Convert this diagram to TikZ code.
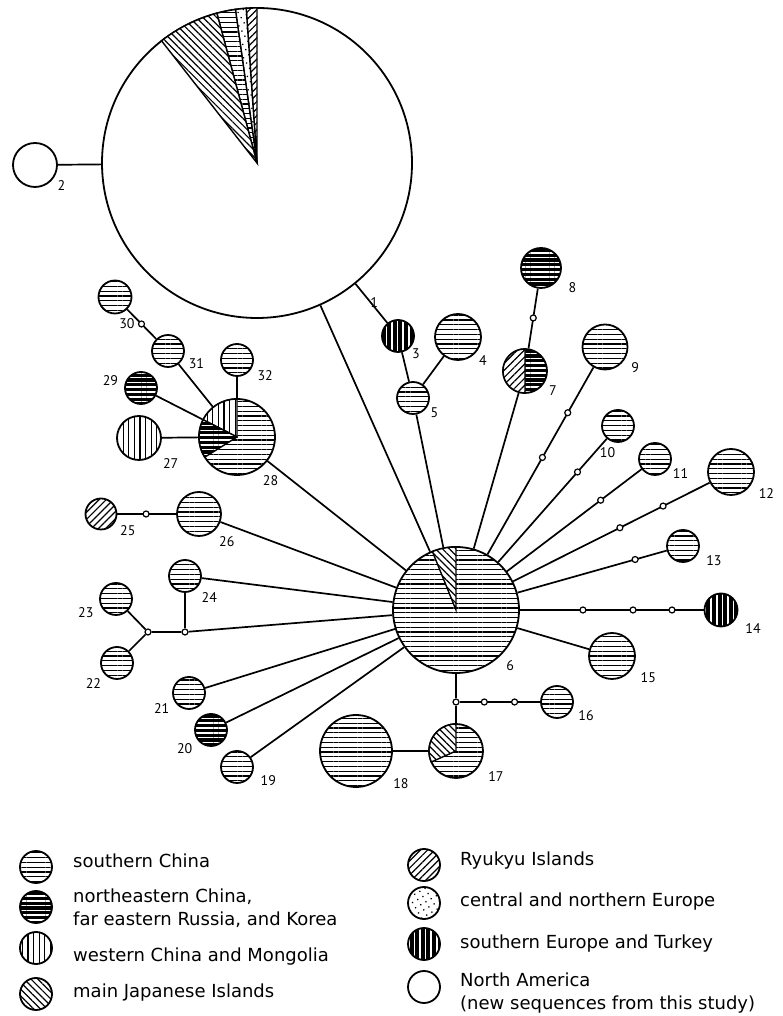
\documentclass[tikz,border=0pt]{standalone}
\usepackage{fontspec}
\setmainfont{DejaVu Sans}
\newfontfamily\numfont{PT Sans}
\usetikzlibrary{calc, patterns.meta}

\tikzset{
	hap/.style={circle, draw, line width=1.8pt, inner sep=0pt, minimum size=#1},
	link/.style={line width=1.7pt},
	mv/.style={circle, draw, fill=white, line width=1.2pt, inner sep=0pt, minimum size=6pt},
	num/.style={font=\numfont\fontsize{14}{15}\selectfont, inner sep=0pt},
	legtext/.style={font=\fontsize{18}{23}\selectfont, anchor=base west, inner sep=0pt, align=left},
	% fills of the regions
	sChina/.style={preaction={fill=white}, pattern={Lines[angle=0, distance=4.8pt, line width=1.2pt]}},
	neChina/.style={preaction={fill=black}, pattern={Lines[angle=0, distance=4.8pt, line width=1.7pt]}, pattern color=white},
	wChina/.style={preaction={fill=white}, pattern={Lines[angle=90, distance=5.6pt, line width=1.3pt]}},
	japan/.style={preaction={fill=white}, pattern={Lines[angle=-45, distance=4.8pt, line width=1.2pt]}},
	ryukyu/.style={preaction={fill=white}, pattern={Lines[angle=45, distance=5pt, line width=1.2pt]}},
	cEurope/.style={preaction={fill=white}, pattern={Dots[angle=30, distance=6pt, radius=0.9pt]}},
	sEurope/.style={preaction={fill=black}, pattern={Lines[angle=90, distance=5.6pt, line width=1.7pt]}, pattern color=white},
	nAmerica/.style={fill=white},
}

\begin{document}
\begin{tikzpicture}[x=1pt, y=1pt]
	\useasboundingbox (0,0) rectangle (783,1016);

	% haplotypes
	\node[hap=310pt, nAmerica, label={[num, label distance=20pt]-50:1}] (n1) at (257,853) {};
	\node[hap=44pt, nAmerica, label={[num, label distance=4pt]-34:2}] (n2) at (35,851) {};
	\node[hap=32pt, sEurope, label={[num, label distance=2pt]-42:3}] (n3) at (398,680) {};
	\node[hap=46pt, sChina, label={[num, label distance=4pt]-41:4}] (n4) at (458,679) {};
	\node[hap=32pt, sChina, label={[num, label distance=3pt]-29:5}] (n5) at (413,618) {};
	\node[hap=126pt, sChina, label={[num, label distance=7pt]-45:6}] (n6) at (456,406) {};
	\node[hap=44pt, neChina, label={[num, label distance=5pt]-31:7}] (n7) at (525,645) {};
	\node[hap=40pt, neChina, label={[num, label distance=10pt]-27:8}] (n8) at (541,748) {};
	\node[hap=45pt, sChina, label={[num, label distance=7pt]-31:9}] (n9) at (605,669) {};
	\node[hap=32pt, sChina, label={[num, label distance=5pt]-97:10}] (n10) at (618,590) {};
	\node[hap=32pt, sChina, label={[num, label distance=3pt]-27:11}] (n11) at (655,557) {};
	\node[hap=46pt, sChina, label={[num, label distance=8pt]-30:12}] (n12) at (731,544) {};
	\node[hap=32pt, sChina, label={[num, label distance=8pt]-22:13}] (n13) at (683,470) {};
	\node[hap=33pt, sEurope, label={[num, label distance=10pt]-28:14}] (n14) at (721,406) {};
	\node[hap=46pt, sChina, label={[num, label distance=9pt]-30:15}] (n15) at (612,360) {};
	\node[hap=32pt, sChina, label={[num, label distance=6pt]-22:16}] (n16) at (557,314) {};
	\node[hap=54pt, sChina, label={[num, label distance=10pt]-32:17}] (n17) at (456,265) {};
	\node[hap=72pt, sChina, label={[num, label distance=9pt]-36:18}] (n18) at (356,265) {};
	\node[hap=32pt, sChina, label={[num, label distance=8pt]-19:19}] (n19) at (237,249) {};
	\node[hap=32pt, neChina, label={[num, label distance=6pt]-144:20}] (n20) at (211,286) {};
	\node[hap=32pt, sChina, label={[num, label distance=5pt]-153:21}] (n21) at (189,323) {};
	\node[hap=32pt, sChina, label={[num, label distance=5pt]-136:22}] (n22) at (117,353) {};
	\node[hap=32pt, sChina, label={[num, label distance=7pt]-159:23}] (n23) at (116,417) {};
	\node[hap=32pt, sChina, label={[num, label distance=6pt]-44:24}] (n24) at (185,440) {};
	\node[hap=31pt, ryukyu, label={[num, label distance=6pt]-31:25}] (n25) at (101,502) {};
	\node[hap=44pt, sChina, label={[num, label distance=7pt]-48:26}] (n26) at (199,502) {};
	\node[hap=44pt, wChina, label={[num, label distance=9pt]-41:27}] (n27) at (139,578) {};
	\node[hap=76pt, sChina, label={[num, label distance=7pt]-56:28}] (n28) at (237,579) {};
	\node[hap=32pt, neChina, label={[num, label distance=6pt]174:29}] (n29) at (141,628) {};
	\node[hap=33pt, sChina, label={[num, label distance=4pt]-79:30}] (n30) at (115,719) {};
	\node[hap=32pt, sChina, label={[num, label distance=5pt]-20:31}] (n31) at (168,665) {};
	\node[hap=32pt, sChina, label={[num, label distance=6pt]-27:32}] (n32) at (237,656) {};

	% branching points
	\node[mv] (j1) at (185,384) {};
	\node[mv] (j2) at (148,384) {};
	\node[mv] (j3) at (456,314) {};

	% pie slices
	\draw[ryukyu, line width=1.4pt] (n1.center) -- ++(90:155pt) arc[start angle=90, end angle=94, radius=155pt] -- cycle;
	\draw[cEurope, line width=1.4pt] (n1.center) -- ++(94:155pt) arc[start angle=94, end angle=98, radius=155pt] -- cycle;
	\draw[sChina, line width=1.4pt] (n1.center) -- ++(98:155pt) arc[start angle=98, end angle=105, radius=155pt] -- cycle;
	\draw[japan, line width=1.4pt] (n1.center) -- ++(105:155pt) arc[start angle=105, end angle=128, radius=155pt] -- cycle;
	\draw[japan, line width=1.4pt] (n6.center) -- ++(90:63pt) arc[start angle=90, end angle=112, radius=63pt] -- cycle;
	\draw[ryukyu, line width=1.4pt] (n7.center) -- ++(90:22pt) arc[start angle=90, end angle=270, radius=22pt] -- cycle;
	\draw[japan, line width=1.4pt] (n17.center) -- ++(90:27pt) arc[start angle=90, end angle=204, radius=27pt] -- cycle;
	\draw[wChina, line width=1.4pt] (n28.center) -- ++(90:38pt) arc[start angle=90, end angle=153, radius=38pt] -- cycle;
	\draw[neChina, line width=1.4pt] (n28.center) -- ++(153:38pt) arc[start angle=153, end angle=212, radius=38pt] -- cycle;

	% network links
	\draw[link] (n2) -- (n1);
	\draw[link] (n1) -- (n3);
	\draw[link] (n3) -- (n5);
	\draw[link] (n5) -- (n4);
	\draw[link] (n5) -- (n6);
	\draw[link] (n1) -- (n6);
	\draw[link] (n8) -- (n7);
	\draw[link] (n7) -- (n6);
	\draw[link] (n9) -- (n6);
	\draw[link] (n10) -- (n6);
	\draw[link] (n11) -- (n6);
	\draw[link] (n12) -- (n6);
	\draw[link] (n13) -- (n6);
	\draw[link] (n14) -- (n6);
	\draw[link] (n15) -- (n6);
	\draw[link] (n6) -- (j3) -- (n17);
	\draw[link] (j3) -- (n16);
	\draw[link] (n18) -- (n17);
	\draw[link] (n19) -- (n6);
	\draw[link] (n20) -- (n6);
	\draw[link] (n21) -- (n6);
	\draw[link] (n22) -- (j2);
	\draw[link] (n23) -- (j2);
	\draw[link] (j2) -- (j1) -- (n6);
	\draw[link] (n24) -- (j1);
	\draw[link] (n24) -- (n6);
	\draw[link] (n25) -- (n26);
	\draw[link] (n26) -- (n6);
	\draw[link] (n28) -- (n6);
	\draw[link] (n27) -- (n28);
	\draw[link] (n29) -- (n28);
	\draw[link] (n31) -- (n28);
	\draw[link] (n32) -- (n28);
	\draw[link] (n30) -- (n31);

	% missing haplotypes on the links
	\node[mv] (m8) at ($(n7)!0.515!(n8)$) {};
	\node[mv] (m9a) at ($(n6)!0.58!(n9)$) {};
	\node[mv] (m9b) at ($(n6)!0.75!(n9)$) {};
	\node[mv] (m10) at ($(n6)!0.75!(n10)$) {};
	\node[mv] (m11) at ($(n6)!0.727!(n11)$) {};
	\node[mv] (m12a) at ($(n6)!0.596!(n12)$) {};
	\node[mv] (m12b) at ($(n6)!0.753!(n12)$) {};
	\node[mv] (m13) at ($(n6)!0.789!(n13)$) {};
	\node[mv] (m14a) at ($(n6)!0.479!(n14)$) {};
	\node[mv] (m14b) at ($(n6)!0.668!(n14)$) {};
	\node[mv] (m14c) at ($(n6)!0.815!(n14)$) {};
	\node[mv] (m16a) at ($(j3)!0.28!(n16)$) {};
	\node[mv] (m16b) at ($(j3)!0.58!(n16)$) {};
	\node[mv] (m25) at ($(n25)!0.46!(n26)$) {};
	\node[mv] (m30) at ($(n30)!0.5!(n31)$) {};

	% legend
	\node[hap=32pt, sChina] (lg1) at (36,149) {};
	\node[hap=32pt, neChina] (lg2) at (36,109) {};
	\node[hap=32pt, wChina] (lg3) at (36,68) {};
	\node[hap=32pt, japan] (lg4) at (36,22) {};
	\node[hap=32pt, ryukyu] (lg5) at (424,151) {};
	\node[hap=32pt, cEurope] (lg6) at (424,113) {};
	\node[hap=32pt, sEurope] (lg7) at (424,72) {};
	\node[hap=32pt, nAmerica] (lg8) at (424,29) {};
	\node[legtext] (tx1) at (73,148) {southern China};
	\node[legtext] (tx2) at (73,90) {northeastern China,\\far eastern Russia, and Korea};
	\node[legtext] (tx3) at (73,54) {western China and Mongolia};
	\node[legtext] (tx4) at (73,18) {main Japanese Islands};
	\node[legtext] (tx5) at (460,150) {Ryukyu Islands};
	\node[legtext] (tx6) at (460,109) {central and northern Europe};
	\node[legtext] (tx7) at (460,67) {southern Europe and Turkey};
	\node[legtext] (tx8) at (460,6) {North America\\(new sequences from this study)};
\end{tikzpicture}
\end{document}
